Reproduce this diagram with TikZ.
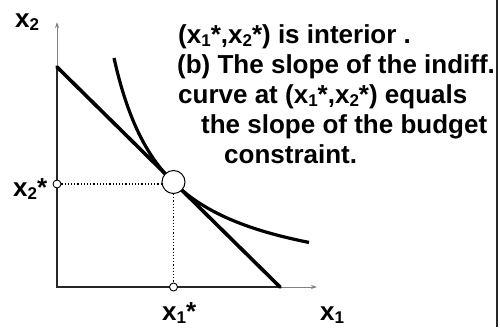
\documentclass[tikz,border=0pt]{standalone}
\usepackage{fontspec}
\setmainfont{Liberation Sans}
\usetikzlibrary{arrows.meta}
\newcommand\sbs[1]{\raisebox{-3pt}{\fontsize{17}{17}\selectfont #1}}
\begin{document}
\begin{tikzpicture}[x=1pt,y=-1pt,
  txt/.style={font=\fontsize{26}{30}\selectfont\bfseries, anchor=base west, inner sep=0pt},
  axisline/.style={draw=gray, line width=0.9pt, -{Stealth[length=6pt,width=4pt]}},
  axisdark/.style={draw=black!85, line width=1.2pt},
  budget/.style={line width=3.6pt, line cap=round},
  indiff/.style={line width=3.2pt},
  dot/.style={circle, draw=black, fill=white, line width=0.9pt, inner sep=0pt, minimum size=8pt},
  bigdot/.style={circle, draw=black, fill=white, line width=1pt, inner sep=0pt, minimum size=23pt},
  guide/.style={dotted, line width=1.2pt}]
\useasboundingbox (0,0) rectangle (500,327);
% axes
\coordinate (O) at (57,287);
\coordinate (Ytip) at (57,22);
\coordinate (Xtip) at (317,287);
\coordinate (B1) at (57,67);
\coordinate (B2) at (280,287);
\draw[axisline] (O) -- (Ytip);
\draw[axisline] (O) -- (Xtip);
\draw[axisdark] (B1) -- (O) -- (B2);
% budget line
\draw[budget] (B1) -- (B2);
% indifference curve
\draw[indiff] plot[domain=114:309, samples=80, smooth] (\x, {291.8 - 12205/(\x-61.8)});
% tangency point and guides
\node[bigdot] (T) at (173.5,182) {};
\node[dot] (p2) at (57,184) {};
\node[dot] (p1) at (173.5,287) {};
\draw[guide] (p2) -- (p2 -| T.west);
\draw[guide] (T.south) -- (p1);
% axis labels
\node[txt] (ly) at (15,27) {x\sbs{2}};
\node[txt] (ly2) at (13,196) {x\sbs{2}*};
\node[txt] (lx2) at (162,320) {x\sbs{1}*};
\node[txt] (lx) at (320,320) {x\sbs{1}};
% text
\node[txt] (t1) at (178,43) {(x\sbs{1}*,x\sbs{2}*) is interior .};
\node[txt] (t2) at (177,73) {(b) The slope of the indiff.};
\node[txt] (t3) at (178,103) {curve at (x\sbs{1}*,x\sbs{2}*) equals};
\node[txt] (t4) at (201,133) {the slope of the budget};
\node[txt] (t5) at (224,163) {constraint.};
% right border
\draw[line width=2.5pt, black!85] (497,0) -- (497,327);
\end{tikzpicture}
\end{document}
